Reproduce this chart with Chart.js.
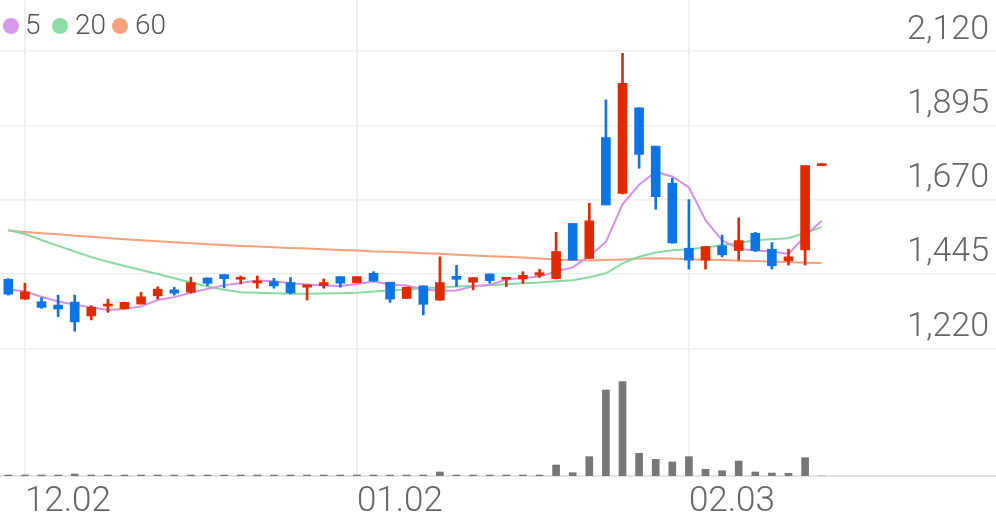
<!DOCTYPE html>
<html>
<head>
<meta charset="utf-8">
<script src="https://cdn.jsdelivr.net/npm/chart.js@4/dist/chart.umd.min.js"></script>
<style>
  html, body { margin: 0; padding: 0; background: #fff; }
  #wrap { position: relative; width: 996px; height: 519px; }
  .dot { position: absolute; width: 16px; height: 16px; border-radius: 50%; top: 18px; }
  .lg { position: absolute; top: 11px; font: 300 28px Roboto, sans-serif; line-height: 28px; color: #555; }
</style>
</head>
<body>
<div id="wrap">
  <canvas id="chart" width="996" height="519"></canvas>
  <span class="dot" style="left:3px;background:#d69aea"></span><span class="lg" style="left:25px">5</span>
  <span class="dot" style="left:52px;background:#8cdca3"></span><span class="lg" style="left:75px">20</span>
  <span class="dot" style="left:112px;background:#f6a27d"></span><span class="lg" style="left:135px">60</span>
</div>
<script>
// trading days shown (MM.DD)
const dates = ["11.29","12.02","12.03","12.04","12.05","12.06","12.09","12.10","12.11","12.12",
  "12.13","12.16","12.17","12.18","12.19","12.20","12.23","12.24","12.26","12.27",
  "12.30","01.02","01.03","01.06","01.07","01.08","01.09","01.10","01.13","01.14",
  "01.15","01.16","01.17","01.20","01.21","01.22","01.23","01.28","01.29","01.30",
  "01.31","02.03","02.04","02.05","02.06","02.07","02.10","02.11","02.12","02.13"];
const tickLabels = ["12.02", "01.02", "02.03"];
const priceTicks = [1220, 1445, 1670, 1895, 2120];

const opens  = [1429,1369,1361,1351,1360,1318,1348,1340,1354,1379,1397,1390,1433,1443,1429,1418,1422,1419,1405,1410,
  1437,1419,1447,1420,1371,1409,1366,1438,1420,1445,1429,1430,1441,1431,1598,1492,1858,1689,1948,1832,
  1720,1523,1487,1530,1516,1568,1520,1485,1518,1773];
const highs  = [1431,1417,1373,1381,1381,1349,1369,1360,1390,1406,1405,1435,1433,1443,1439,1439,1432,1434,1412,1430,
  1437,1437,1452,1420,1405,1409,1497,1471,1434,1445,1435,1452,1459,1571,1598,1659,1972,2113,1948,1832,
  1735,1670,1528,1563,1615,1571,1540,1520,1773,1773];
const lows   = [1381,1368,1341,1316,1272,1306,1329,1339,1354,1369,1381,1387,1410,1403,1415,1402,1402,1385,1366,1402,
  1405,1419,1422,1359,1371,1321,1365,1407,1397,1417,1407,1417,1435,1430,1487,1492,1654,1687,1765,1641,
  1538,1460,1460,1497,1487,1513,1460,1472,1472,1773];
const closes = [1384,1391,1344,1339,1300,1344,1354,1359,1376,1399,1387,1419,1417,1431,1434,1424,1409,1388,1412,1419,
  1417,1437,1424,1369,1405,1353,1419,1429,1434,1425,1435,1441,1449,1513,1487,1606,1654,2022,1807,1679,
  1539,1487,1528,1503,1546,1516,1470,1497,1773,1773];

const ma5  = [1399,1392,1376,1362,1352,1344,1336,1339,1347,1366,1375,1388,1400,1411,1418,1425,1423,1417,1413,1410,
  1409,1415,1422,1413,1410,1398,1394,1395,1408,1412,1428,1433,1437,1453,1465,1499,1542,1656,1715,1754,
  1740,1707,1608,1547,1521,1516,1513,1506,1560,1606];
const ma20 = [1578,1566,1548,1530,1513,1496,1482,1469,1457,1445,1432,1419,1407,1397,1390,1388,1387,1385,1385,1386,
  1387,1388,1392,1395,1398,1402,1404,1407,1409,1411,1414,1417,1419,1423,1426,1435,1447,1477,1497,1510,
  1517,1520,1525,1532,1539,1547,1550,1553,1570,1587];
const ma60 = [1577,1572,1568,1565,1561,1558,1554,1550,1547,1544,1541,1538,1535,1533,1530,1528,1526,1524,1522,1520,
  1518,1516,1513,1512,1510,1508,1506,1503,1501,1499,1497,1495,1492,1489,1487,1486,1487,1489,1492,1493,
  1492,1490,1488,1487,1485,1484,1482,1481,1479,1478];

const volumes = [10,10,10,10,20,10,10,10,10,10,10,10,10,10,10,10,10,10,10,10,
  10,10,10,10,10,10,40,10,10,10,10,10,10,110,33,193,860,943,227,167,
  140,193,67,53,150,40,30,27,183,0];

const RED = "#e12a03";
const BLUE = "#0b75e6";

// empty slots to the right of the last day
const labels = dates.concat(Array(10).fill(""));
const candleColors = opens.map((o, i) => closes[i] >= o ? RED : BLUE);

new Chart(document.getElementById("chart"), {
  type: "bar",
  data: {
    labels: labels,
    datasets: [
      {
        label: "body",
        data: opens.map((o, i) => [o, closes[i]]),
        backgroundColor: candleColors,
        barThickness: 9,
        minBarLength: 2,
        grouped: false,
        order: 0
      },
      {
        label: "wick",
        data: lows.map((l, i) => [l, highs[i]]),
        backgroundColor: candleColors,
        barThickness: 2,
        minBarLength: 2,
        grouped: false,
        order: 1
      },
      { type: "line", label: "5", data: ma5, borderColor: "#d690ea", borderWidth: 2, pointRadius: 0, order: 2 },
      { type: "line", label: "20", data: ma20, borderColor: "#8bd9a1", borderWidth: 2, pointRadius: 0, order: 3 },
      { type: "line", label: "60", data: ma60, borderColor: "#f7a07a", borderWidth: 2, pointRadius: 0, order: 4 },
      {
        label: "volume",
        data: volumes,
        yAxisID: "yv",
        backgroundColor: "#777777",
        barThickness: 7,
        grouped: false,
        order: 5
      }
    ]
  },
  options: {
    responsive: false,
    animation: false,
    layout: { padding: 0 },
    plugins: { legend: { display: false }, tooltip: { enabled: false } },
    scales: {
      x: {
        offset: true,
        grid: {
          offset: false,
          drawTicks: false,
          color: (c) => tickLabels.includes(labels[c.index]) ? "#efefef" : "rgba(0,0,0,0)",
          lineWidth: 2
        },
        border: { display: true, color: "#e4e4e4", width: 2 },
        ticks: {
          autoSkip: false,
          maxRotation: 0,
          align: "start",
          padding: 5,
          color: "#666",
          font: { family: "Roboto", size: 35, weight: "300" },
          callback: (v, i) => tickLabels.includes(labels[i]) ? labels[i] : ""
        },
        afterFit: (s) => { s.paddingLeft = 0; s.paddingRight = 0; s.height = 43; }
      },
      y: {
        position: "right",
        min: 833.5,
        max: 2274.4,
        grid: { drawTicks: false, color: "#eeeeee", lineWidth: 1.5 },
        border: { display: false },
        afterBuildTicks: (s) => { s.ticks = priceTicks.map(v => ({ value: v })); },
        afterFit: (s) => { s.paddingTop = 0; s.paddingBottom = 0; s.width = 0; },
        ticks: {
          mirror: true,
          padding: -7,
          labelOffset: -21,
          color: "#666",
          font: { family: "Roboto", size: 34, weight: "300" },
          callback: (v) => v.toLocaleString("en-US")
        }
      },
      yv: {
        position: "right",
        display: false,
        min: 0,
        max: 4760
      }
    }
  }
});
</script>
</body>
</html>
